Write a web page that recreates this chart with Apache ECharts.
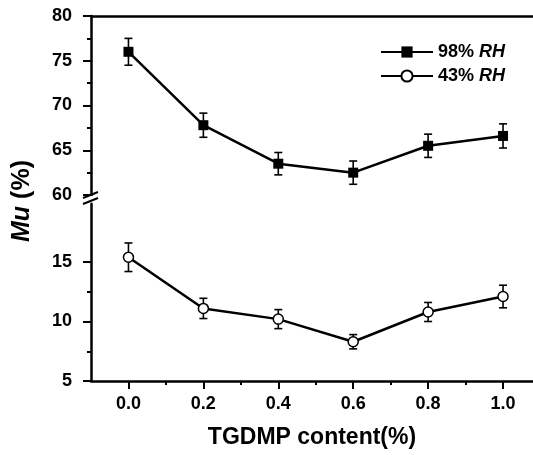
<!DOCTYPE html>
<html>
<head>
<meta charset="utf-8">
<script src="https://cdn.jsdelivr.net/npm/echarts@6/dist/echarts.min.js"></script>
<style>
  html, body { margin: 0; padding: 0; background: #fff; }
  #chart { width: 533px; height: 455px; }
</style>
</head>
<body>
<div id="chart"></div>
<script>
// TGDMP content (%)
var contents = [0.0, 0.2, 0.4, 0.6, 0.8, 1.0];
// Mu (%) at 98% RH and 43% RH, with error bar half-widths
var mu98 = [76.0, 67.8, 63.5, 62.5, 65.5, 66.6];
var err98 = [1.5, 1.35, 1.25, 1.3, 1.3, 1.35];
var mu43 = [15.4, 11.1, 10.2, 8.3, 10.8, 12.1];
var err43 = [1.2, 0.85, 0.8, 0.6, 0.8, 0.95];
var upperTicks = [60, 65, 70, 75, 80];
var lowerTicks = [5, 10, 15];
var xTicks = [0.0, 0.2, 0.4, 0.6, 0.8, 1.0];

var font = 'Liberation Sans, Arial, sans-serif';
var myChart = echarts.init(document.getElementById('chart'));

function pairs(vals) {
    return contents.map(function (x, i) { return [x, vals[i]]; });
}
function errData(vals, errs) {
    return contents.map(function (x, i) { return [x, vals[i] - errs[i], vals[i] + errs[i]]; });
}
function midTicks(arr) {
    var out = [];
    for (var i = 0; i < arr.length - 1; i++) out.push((arr[i] + arr[i + 1]) / 2);
    return out;
}

function renderErr(params, api) {
    var lo = api.coord([api.value(0), api.value(1)]);
    var hi = api.coord([api.value(0), api.value(2)]);
    var w = 4;
    var st = { stroke: '#000', lineWidth: 1.6 };
    return {
        type: 'group',
        children: [
            { type: 'line', shape: { x1: lo[0], y1: lo[1], x2: hi[0], y2: hi[1] }, style: st },
            { type: 'line', shape: { x1: lo[0] - w, y1: lo[1], x2: lo[0] + w, y2: lo[1] }, style: st },
            { type: 'line', shape: { x1: hi[0] - w, y1: hi[1], x2: hi[0] + w, y2: hi[1] }, style: st }
        ]
    };
}

var axisLine = { show: true, onZero: false, lineStyle: { color: '#000', width: 2.5 } };
var labelStyle = { color: '#000', fontFamily: font, fontWeight: 'bold', fontSize: 18 };

// an invisible axis that only draws ticks at the given values
function tickAxis(grid, min, max, pos, values, len) {
    return {
        type: 'value', gridIndex: grid, min: min, max: max, position: pos,
        splitLine: { show: false },
        axisLine: { show: false, onZero: false },
        axisTick: { show: true, length: len, lineStyle: { color: '#000', width: 2 }, customValues: values },
        axisLabel: { show: false }
    };
}

function yAxes(grid, min, max, ticks) {
    var main = {
        type: 'value', gridIndex: grid, min: min, max: max, position: 'left',
        splitLine: { show: false },
        axisLine: axisLine,
        axisTick: { show: false },
        axisLabel: Object.assign({ customValues: ticks, margin: 13, padding: [0, 6, 0, 0], hideOverlap: false }, labelStyle)
    };
    return [main,
        tickAxis(grid, min, max, 'left', ticks, 8),
        tickAxis(grid, min, max, 'left', midTicks(ticks), 4)];
}

var ya = yAxes(0, 59.6, 80, upperTicks);
var yb = yAxes(1, 5, 19.9, lowerTicks);

var option = {
    animation: false,
    backgroundColor: '#fff',
    grid: [
        { left: 91, right: 0, top: 16, height: 182.6, outerBoundsMode: 'none' },
        { left: 91, right: 0, top: 203.7, bottom: 74, outerBoundsMode: 'none' }
    ],
    legend: {
        data: ['98% RH', '43% RH'],
        orient: 'vertical',
        left: 380,
        top: 43,
        padding: 0,
        itemWidth: 52,
        itemHeight: 14,
        itemGap: 6,
        formatter: function (name) { return name.replace('RH', '{i|RH}'); },
        textStyle: {
            color: '#000', fontFamily: font, fontWeight: 'bold', fontSize: 18, lineHeight: 14,
            rich: { i: { fontStyle: 'italic', fontWeight: 'bold', fontFamily: font, fontSize: 18, lineHeight: 14, color: '#000' } }
        }
    },
    xAxis: [
        {
            type: 'value', gridIndex: 0, min: -0.1, max: 1.08, position: 'top',
            splitLine: { show: false }, axisLine: axisLine,
            axisTick: { show: false }, axisLabel: { show: false }
        },
        {
            type: 'value', gridIndex: 1, min: -0.1, max: 1.08, position: 'bottom',
            splitLine: { show: false }, axisLine: axisLine,
            axisTick: { show: false },
            axisLabel: Object.assign({
                customValues: xTicks, margin: 14,
                formatter: function (v) { return v.toFixed(1); }
            }, labelStyle),
            name: 'TGDMP content(%)', nameLocation: 'middle', nameGap: 45,
            nameTextStyle: { color: '#000', fontFamily: font, fontWeight: 'bold', fontSize: 23 }
        },
        tickAxis(1, -0.1, 1.08, 'bottom', xTicks, 8),
        tickAxis(1, -0.1, 1.08, 'bottom', midTicks(xTicks), 4)
    ],
    yAxis: ya.concat(yb),
    graphic: [
        { type: 'rect', shape: { x: 88, y: 196, width: 8, height: 6 }, style: { fill: '#fff' }, z: 100 },
        { type: 'line', shape: { x1: 83, y1: 198, x2: 98, y2: 192 }, style: { stroke: '#000', lineWidth: 2 }, z: 101 },
        { type: 'line', shape: { x1: 83, y1: 204, x2: 98, y2: 198 }, style: { stroke: '#000', lineWidth: 2 }, z: 101 },
        {
            type: 'text', x: 22, y: 201, rotation: Math.PI / 2, z: 101,
            style: {
                text: '{i|Mu} (%)', fill: '#000', font: 'bold 25px ' + font,
                align: 'center', verticalAlign: 'middle',
                rich: { i: { fontStyle: 'italic', fontWeight: 'bold', fontSize: 25, fontFamily: font, fill: '#000' } }
            }
        }
    ],
    series: [
        {
            type: 'custom', xAxisIndex: 0, yAxisIndex: 0, renderItem: renderErr,
            data: errData(mu98, err98), z: 1, silent: true
        },
        {
            type: 'custom', xAxisIndex: 1, yAxisIndex: 3, renderItem: renderErr,
            data: errData(mu43, err43), z: 1, silent: true
        },
        {
            name: '98% RH', type: 'line', xAxisIndex: 0, yAxisIndex: 0,
            data: pairs(mu98), symbol: 'rect', symbolSize: 10, z: 3,
            lineStyle: { color: '#000', width: 2.5 },
            itemStyle: { color: '#000', borderColor: '#000', borderWidth: 0 }
        },
        {
            name: '43% RH', type: 'line', xAxisIndex: 1, yAxisIndex: 3,
            data: pairs(mu43), symbol: 'circle', symbolSize: 10, showAllSymbol: true, z: 3,
            lineStyle: { color: '#000', width: 2.5 },
            itemStyle: { color: '#fff', borderColor: '#000', borderWidth: 1.5 }
        }
    ]
};

myChart.setOption(option);
</script>
</body>
</html>
